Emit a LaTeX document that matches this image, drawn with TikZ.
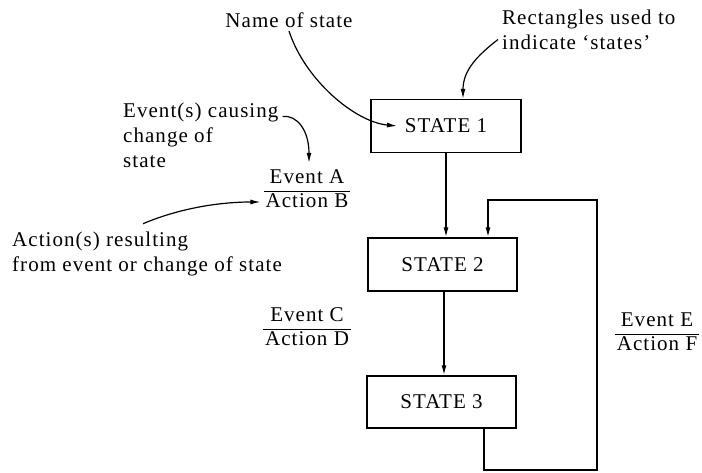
\documentclass[tikz,border=0pt]{standalone}
\usepackage{fontspec}
\setmainfont{Liberation Serif}[LetterSpace=5]
\usetikzlibrary{arrows.meta,positioning,calc}
\renewcommand{\arraystretch}{0.9}
\setlength{\arrayrulewidth}{0.8pt}
\newcommand{\evfrac}[2]{\begin{tabular}{@{\hspace{2pt}}c@{\hspace{2pt}}}#1\\\hline #2\end{tabular}}
\tikzset{
  statebox/.style={draw, line width=1.4pt, minimum width=149pt, minimum height=53pt, inner sep=0pt},
  flow/.style={-{Latex[length=10pt,width=5pt]}, line width=1.4pt},
  pointer/.style={-{Latex[length=10pt,width=5pt]}, line width=1.2pt},
  note/.style={align=left, inner sep=0pt},
  fracnode/.style={inner sep=0pt}
}

\begin{document}
\begin{tikzpicture}[x=1pt,y=-1pt,font=\fontsize{21}{25}\selectfont]
\useasboundingbox (0,0) rectangle (702,473);

% States
\node[statebox, minimum width=150pt] (s1) at (446,126) {STATE 1};
\node[statebox] (s2) at (442.5,264.5) {STATE 2};
\node[statebox, minimum height=52pt] (s3) at (441.5,402) {STATE 3};

% Transitions
\draw[flow] (s1.south) -- (s1.south |- s2.north);
\draw[flow] ([xshift=1.5pt]s2.south) -- ([xshift=1.5pt]s2.south |- s3.north);
\coordinate (loopbot) at (597,470);
\coordinate (looptop) at (597,200);
\draw[flow] ([xshift=42.5pt]s3.south) |- (loopbot) -- (looptop) -| ([xshift=45.5pt]s2.north);

% Event / action labels
\node[fracnode] (evab) at (307,191) {\evfrac{Event A}{Action B}};
\node[fracnode] (evcd) at (307,329) {\evfrac{Event C}{Action D}};
\node[fracnode] (evef) at (657,334) {\evfrac{Event E}{Action F}};

% Annotations
\node (namenote) at (289,20) {Name of state};
\node[note, anchor=west] (rectnote) at (502,29.5) {Rectangles used to\\indicate `states'};
\node[note, anchor=west] (eventnote) at (123,135) {Event(s) causing\\change of\\state};
\node[note, anchor=west] (actnote) at (12,254) {Action(s) resulting\\from event or change of state};

\draw[pointer] (namenote.south) .. controls (305,80) and (355,122) .. ([xshift=-49pt]s1.center);
\draw[pointer] ([xshift=-4pt,yshift=-10pt]rectnote.west) .. controls (478,55) and (463,70) .. ([xshift=17pt]s1.north);
\draw[pointer] ([xshift=4pt,yshift=-14pt]eventnote.north east) .. controls (297,115) and (309,130) .. ([xshift=2pt,yshift=5pt]evab.north);
\draw[pointer] ([xshift=131pt,yshift=8pt]actnote.north west) .. controls (175,210) and (215,202) .. ([xshift=-3pt,yshift=-11pt]evab.west);
\end{tikzpicture}
\end{document}
